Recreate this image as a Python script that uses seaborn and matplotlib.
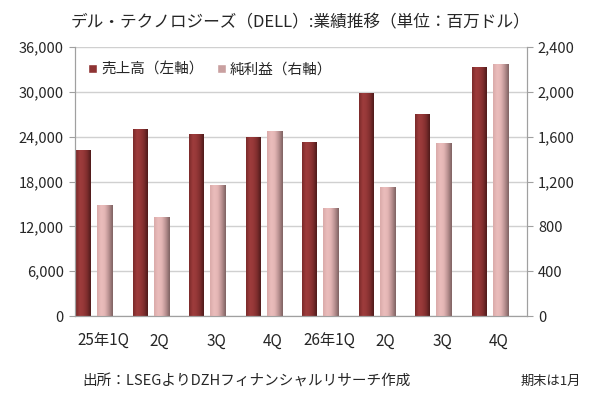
import numpy as np
import pandas as pd
import seaborn as sns
import matplotlib.pyplot as plt
from matplotlib.colors import LinearSegmentedColormap
from matplotlib.patches import Patch

# Data
quarters = ['25年1Q', '2Q', '3Q', '4Q', '26年1Q', '2Q ', '3Q ', '4Q ']
revenue = [22200, 25000, 24400, 23900, 23300, 29800, 27000, 33300]   # 売上高（左軸）
net_income = [990, 880, 1170, 1650, 960, 1150, 1540, 2250]            # 純利益（右軸）

df = pd.DataFrame({'q': quarters, 'rev': revenue, 'ni': net_income})

sns.set_style('white')
plt.rcParams['font.family'] = ['Noto Sans CJK JP', 'DejaVu Sans']

fig = plt.figure(figsize=(6, 3.96), dpi=100)
ax = fig.add_axes([0.125, 0.202, 0.753, 0.679])
ax2 = ax.twinx()

sns.barplot(data=df, x='q', y='rev', ax=ax, width=0.25, color='#9a3838')
sns.barplot(data=df, x='q', y='ni', ax=ax2, width=0.27, color='#e6b8b7')

# shift bars side by side
for p in ax.patches:
    p.set_x(p.get_x() - 0.35)
for p in ax2.patches:
    p.set_x(p.get_x() + 0.03)

# horizontal gradient shading on the bars
cm_rev = LinearSegmentedColormap.from_list('rev', ['#7a2a2a', '#9e3c3c', '#963838', '#7e2d2d', '#4e1a1a'])
cm_ni = LinearSegmentedColormap.from_list('ni', ['#d9aaa9', '#ebbdbc', '#e3b5b4', '#b89090', '#7e6262'])
grad = np.linspace(0, 1, 64).reshape(1, -1)
for a, cm in ((ax, cm_rev), (ax2, cm_ni)):
    for p in list(a.patches):
        x0, y0, w, h = p.get_x(), p.get_y(), p.get_width(), p.get_height()
        im = a.imshow(grad, cmap=cm, aspect='auto', extent=(x0, x0 + w, y0, y0 + h),
                      zorder=p.get_zorder() + 0.1, interpolation='bicubic')
        im.set_clip_path(p)
        p.set_edgecolor('none')

ax.set_xlim(-0.5, len(quarters) - 0.5)
ax.set_ylim(0, 36000)
ax2.set_ylim(0, 2400)
ax.set_yticks(np.arange(0, 36001, 6000))
ax2.set_yticks(np.arange(0, 2401, 400))
ax.set_yticklabels([f'{v:,}' for v in np.arange(0, 36001, 6000)], fontsize=10.5)
ax2.set_yticklabels([f'{v:,}' for v in np.arange(0, 2401, 400)], fontsize=10.5)

ax.set_xticks(range(len(quarters)))
ax.set_xticklabels([q.strip() for q in quarters], fontsize=11)
ax.tick_params(axis='x', length=0, pad=12)
# category boundary ticks
ax.set_xticks(np.arange(-0.5, len(quarters)), minor=True)
ax.tick_params(axis='x', which='minor', length=4, color='#a0a0a0', direction='out')
ax.tick_params(axis='y', length=4, color='#a0a0a0', direction='out', pad=4)
ax2.tick_params(axis='y', length=4, color='#a0a0a0', direction='out', pad=4)

ax.set_xlabel('')
ax.set_ylabel('')
ax2.set_ylabel('')
ax.yaxis.grid(True, color='#d0d0d0', linewidth=1)
ax.set_axisbelow(True)
for s in ('top',):
    ax.spines[s].set_visible(False)
    ax2.spines[s].set_visible(False)
for a in (ax, ax2):
    for s in ('left', 'right', 'bottom'):
        a.spines[s].set_color('#a0a0a0')

handles = [Patch(facecolor='#8e3333'), Patch(facecolor='#c9a0a0')]
ax.legend(handles, ['売上高（左軸）', '純利益（右軸）'], loc='upper left', frameon=False,
          fontsize=10.5, handlelength=0.6, handleheight=0.6, handletextpad=0.3,
          columnspacing=0.9, ncol=2, bbox_to_anchor=(0.0, 0.99))

fig.text(0.5, 0.942, 'デル・テクノロジーズ（DELL）:業績推移（単位：百万ドル）',
         ha='center', va='center', fontsize=12)
fig.text(0.138, 0.038, '出所：LSEGよりDZHフィナンシャルリサーチ作成', ha='left', va='center', fontsize=10.5)
fig.text(0.968, 0.038, '期末は1月', ha='right', va='center', fontsize=9.5)

fig.savefig('out.png', dpi=100)
